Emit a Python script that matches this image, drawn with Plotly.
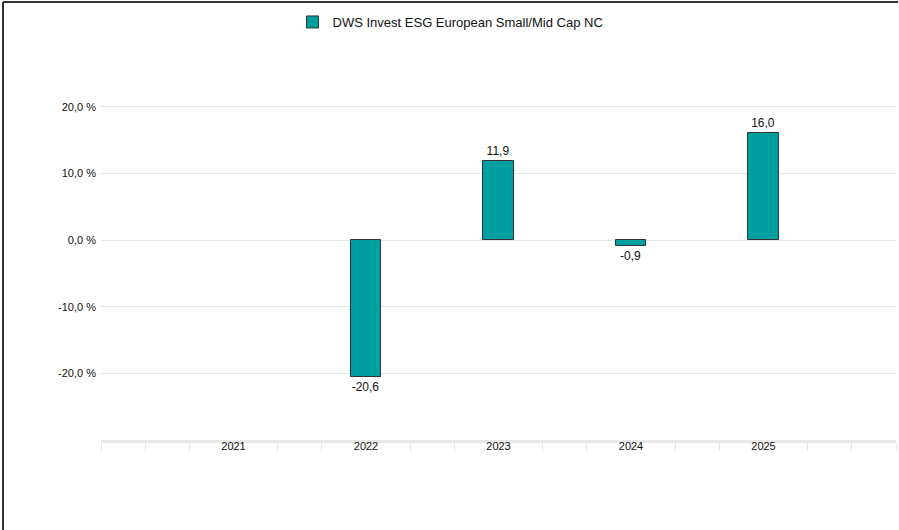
import plotly.graph_objects as go

years = ["2021", "2022", "2023", "2024", "2025"]
year_pos = [3, 6, 9, 12, 15]
returns = [None, -20.6, 11.9, -0.9, 16.0]
series_name = "DWS Invest ESG European Small/Mid Cap NC"
y_tickvals = [-30, -20, -10, 0, 10, 20, 30]
y_ticktext = ["", "-20,0 %", "-10,0 %", "0,0 %", "10,0 %", "20,0 %", ""]

W, H = 899, 530
ML, MR, MT, MB = 101, 3, 40, 90
pw = W - ML - MR
ph = H - MT - MB

fig = go.Figure()
fig.add_trace(go.Bar(
    x=year_pos, y=returns, name=series_name, width=0.68,
    marker=dict(color="#009f9f", line=dict(color="#333333", width=1)),
    texttemplate="%{y:.1f}", textposition="outside", cliponaxis=False,
    textfont=dict(family="Liberation Sans, Arial, sans-serif", size=12, color="#111111"),
    showlegend=True,
))

fig.update_layout(
    width=W, height=H,
    margin=dict(l=ML, r=MR, t=MT, b=MB),
    paper_bgcolor="white", plot_bgcolor="white",
    separators=",.",
    font=dict(family="Liberation Sans, Arial, sans-serif", color="#222222"),
    showlegend=True,
    legend=dict(orientation="h", x=0.4397, xanchor="center", y=1 + 18 / ph, yanchor="middle",
                font=dict(size=13, color="#111111"), itemwidth=30, traceorder="normal"),
    xaxis=dict(range=[0, 18], tickvals=year_pos, ticktext=years, ticks="",
               showgrid=False, zeroline=False,
               showline=True, linecolor="#e8e8e8", linewidth=3,
               ticklabelstandoff=-6,
               tickfont=dict(size=11, color="#111111"),
               minor=dict(ticks="outside", dtick=1, tick0=0, ticklen=8,
                          tickcolor="#e3e3e3", tickwidth=1, showgrid=False),
               fixedrange=True),
    yaxis=dict(range=[-30, 30], tickvals=y_tickvals, ticktext=y_ticktext,
               showgrid=True, gridcolor="#e6e6e6", gridwidth=1, zeroline=False,
               showline=False, ticks="", ticklabelstandoff=4,
               tickfont=dict(size=11, color="#111111"), fixedrange=True),
    bargap=0,
)

# image frame (top and left border)
x_left = (3 - ML) / pw
x_right = (W - 1 - ML) / pw
y_top = 1 + (MT - 2) / ph
fig.add_shape(type="line", xref="paper", yref="paper", x0=x_left, x1=x_right,
              y0=y_top, y1=y_top, line=dict(color="#333333", width=2))
fig.add_shape(type="line", xref="paper", yref="paper", x0=x_left, x1=x_left,
              y0=y_top, y1=-(MB + 5) / ph, line=dict(color="#333333", width=2))

fig.write_html("out.html", config={"displayModeBar": False},
               post_script="document.body.style.margin='0';document.body.style.overflow='hidden';")
